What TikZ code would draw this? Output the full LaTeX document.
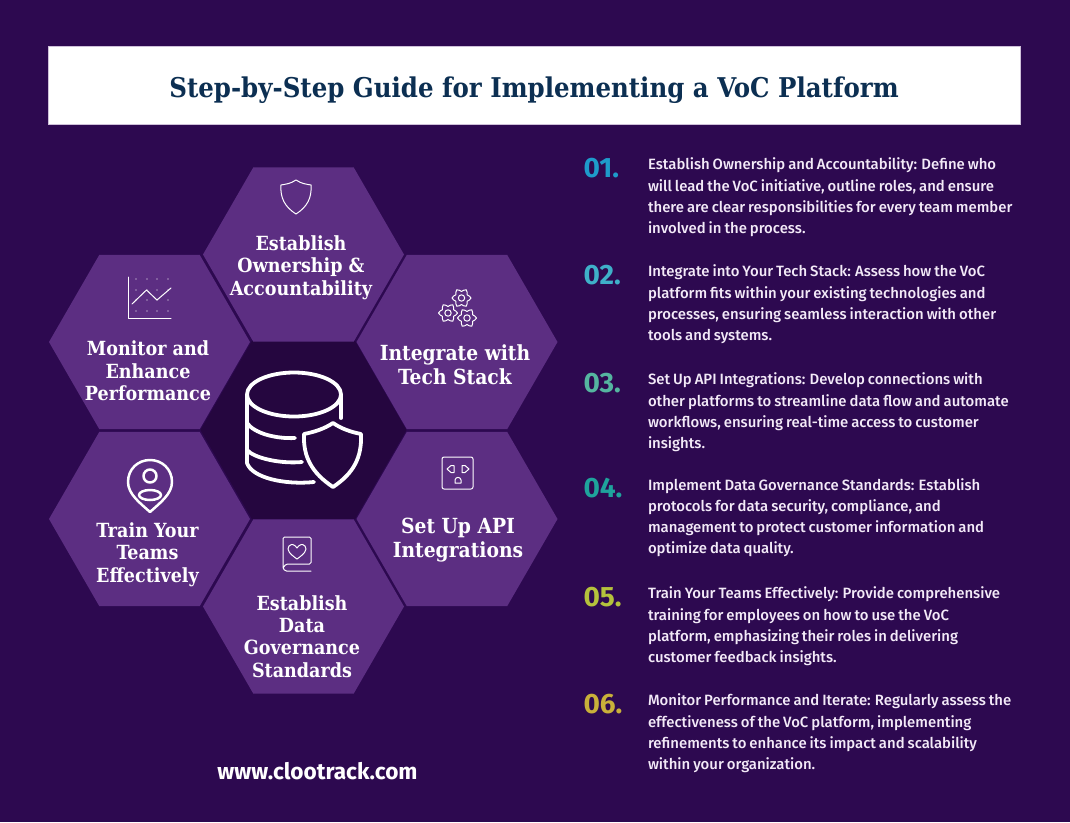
\documentclass[tikz,border=0pt]{standalone}
\usepackage{fontspec}
\setmainfont{DejaVu Serif Condensed}
\setsansfont[WordSpace=0.8]{Fira Sans}
\newfontfamily\stepfont[WordSpace=0.8]{Fira Sans Medium}
\usetikzlibrary{shapes.geometric}
\definecolor{bgpurple}{HTML}{2D0950}
\definecolor{hexpurple}{HTML}{5C2E82}
\definecolor{hubpurple}{HTML}{25063F}
\definecolor{titleblue}{HTML}{0C2F52}
\definecolor{textpale}{HTML}{F3EAF8}
\definecolor{numa}{HTML}{1E9BCB}
\definecolor{numb}{HTML}{3FB0C9}
\definecolor{numc}{HTML}{55B5A0}
\definecolor{numd}{HTML}{1FA39C}
\definecolor{nume}{HTML}{B5C23C}
\definecolor{numf}{HTML}{C9B03A}
\tikzset{
	hexcell/.style={regular polygon,regular polygon sides=6,minimum size=201pt,inner sep=0pt,fill=hexpurple},
	hexlabel/.style={align=center,text=white,font=\bfseries\fontsize{19.5}{22.4}\selectfont},
	hexlabelbig/.style={align=center,text=white,font=\bfseries\fontsize{20.8}{24}\selectfont},
	numlabel/.style={anchor=west,font=\sffamily\bfseries\fontsize{28}{28}\selectfont},
	steptext/.style={anchor=north west,align=left,text=textpale,font=\stepfont\fontsize{14.9}{21.1}\selectfont},
	iconline/.style={draw=white,line width=1pt,line join=round,line cap=round},
	hubline/.style={iconline,line width=3.8pt},
	pinline/.style={iconline,line width=2.5pt},
	gearicon/.pic={
		\draw[iconline] plot[smooth,domain=0:345,samples=24] (\x:{8+1.5*cos(6*\x)}) -- cycle;
		\draw[iconline] (0,0) circle (3.2);
	}
}
\begin{document}
\begin{tikzpicture}[x=1pt,y=-1pt]
\useasboundingbox (0,0) rectangle (1070,822);
\fill[bgpurple] (0,0) rectangle (1070,822);
\node[fill=white,draw=white!70!hexpurple,line width=.6pt,minimum width=972pt,minimum height=78pt,inner sep=0pt] (titlebar) at (534,85.5) {};
\node[text=titleblue,font=\bfseries\fontsize{27.2}{31}\selectfont] (title) at (534,90) {Step-by-Step Guide for Implementing a VoC Platform};

% hexagons
\node[hexcell,fill=hubpurple,minimum size=206pt] (hub) at (303.5,430) {};
\foreach \x/\y/\l in {303.5/254.5/own,149.5/342/mon,457/342/tech,149.5/519/train,457/519/api,303.5/606.5/gov}
	\node[hexcell] (\l) at (\x,\y) {};

% hexagon texts
\node[hexlabel] (ownlabel) at (301,267.5) {Establish\\Ownership \&\\Accountability};
\node[hexlabel] (monlabel) at (148,371) {Monitor and\\Enhance\\Performance};
\node[hexlabelbig] (techlabel) at (455,365) {Integrate with\\Tech Stack};
\node[hexlabel] (trainlabel) at (147.5,554.5) {Train Your\\Teams\\Effectively};
\node[hexlabelbig] (apilabel) at (458,540) {Set Up API\\Integrations};
\node[hexlabel] (govlabel) at (302,636.5) {Establish\\Data\\Governance\\Standards};

% icons
\draw[iconline] (296,180) .. controls (290,184) and (286,184) .. (281,185) .. controls (280,198) and (285,207) .. (296,214) .. controls (307,207) and (312,198) .. (311,185) .. controls (306,184) and (302,184) .. (296,180) -- cycle;
\draw[iconline] (128,277) -- (128,318) -- (171,318);
\draw[iconline] (132,304) -- (146.5,290) -- (157,300) -- (171,288);
\foreach \x in {136,147,157,168}
	\foreach \y in {279,290,300,311}
		\fill[white] (\x,\y) circle (0.7);
\foreach \x/\y in {461.5/298,448/313,467/318}
	\pic at (\x,\y) {gearicon};
\draw[pinline] (150,512) .. controls (140,503) and (128,494) .. (128,482) .. controls (128,469) and (138,460) .. (150,460) .. controls (162,460) and (172,469) .. (172,482) .. controls (172,494) and (160,503) .. (150,512) -- cycle;
\draw[pinline] (150,476) circle (6.5);
\draw[pinline] (150,495) ellipse (11 and 5);
\draw[iconline,rounded corners=2pt] (442,457) rectangle (473,489);
\draw[iconline] (447,469) -- (451,465.5) -- (454,465.5) -- (454,472.5) -- (451,472.5) -- cycle;
\draw[iconline] (469,469) -- (465,465.5) -- (462,465.5) -- (462,472.5) -- (465,472.5) -- cycle;
\draw[iconline] (455,483) -- (455,480) .. controls (455.5,476.5) and (460.5,476.5) .. (461,480) -- (461,483) -- cycle;
\draw[iconline,rounded corners=1.5pt] (311,571) -- (285,571) -- (283,568) -- (283,537) -- (311,537) -- (311,564) -- (286,564) -- (283,568);
\draw[iconline] (297,559) .. controls (290,554) and (286,550) .. (289,546) .. controls (292,543) and (295,545) .. (297,548) .. controls (299,545) and (302,543) .. (305,546) .. controls (308,550) and (304,554) .. (297,559) -- cycle;

% centre icon
\draw[hubline] (294,394.5) ellipse (47 and 22);
\draw[hubline] (341,395) -- (341,418);
\draw[hubline] (247,395) -- (247,463) .. controls (252,478) and (285,485) .. (314,482);
\draw[hubline] (247,423) .. controls (254,433) and (275,439) .. (295,438);
\draw[hubline] (247,450) .. controls (254,458) and (280,464) .. (302,462);
\draw[hubline] (333,423) .. controls (324,429) and (314,432) .. (304,434) .. controls (303,457) and (312,473) .. (333,487) .. controls (354,473) and (362,457) .. (361,434) .. controls (351,432) and (342,429) .. (333,423) -- cycle;

% numbered list
\foreach \y/\n/\c in {168/01./numa,275/02./numb,383/03./numc,488/04./numd,597/05./nume,704/06./numf}
	\node[numlabel,text=\c] (num\n) at (580,\y) {\n};
\node[steptext] (steptxta) at (644.5,154.5) {Establish Ownership and Accountability: Define who\\will lead the VoC initiative, outline roles, and ensure\\there are clear responsibilities for every team member\\involved in the process.};
\node[steptext] (steptxtb) at (644.5,261.5) {Integrate into Your Tech Stack: Assess how the VoC\\platform fits within your existing technologies and\\processes, ensuring seamless interaction with other\\tools and systems.};
\node[steptext] (steptxtc) at (644.5,369.5) {Set Up API Integrations: Develop connections with\\other platforms to streamline data flow and automate\\workflows, ensuring real-time access to customer\\insights.};
\node[steptext] (steptxtd) at (644.5,475) {Implement Data Governance Standards: Establish\\protocols for data security, compliance, and\\management to protect customer information and\\optimize data quality.};
\node[steptext] (steptxte) at (644.5,583.5) {Train Your Teams Effectively: Provide comprehensive\\training for employees on how to use the VoC\\platform, emphasizing their roles in delivering\\customer feedback insights.};
\node[steptext] (steptxtf) at (644.5,690.5) {Monitor Performance and Iterate: Regularly assess the\\effectiveness of the VoC platform, implementing\\refinements to enhance its impact and scalability\\within your organization.};

\node[text=white,font=\sffamily\bfseries\fontsize{22.6}{23}\selectfont] (website) at (317.5,771) {www.clootrack.com};
\end{tikzpicture}
\end{document}
